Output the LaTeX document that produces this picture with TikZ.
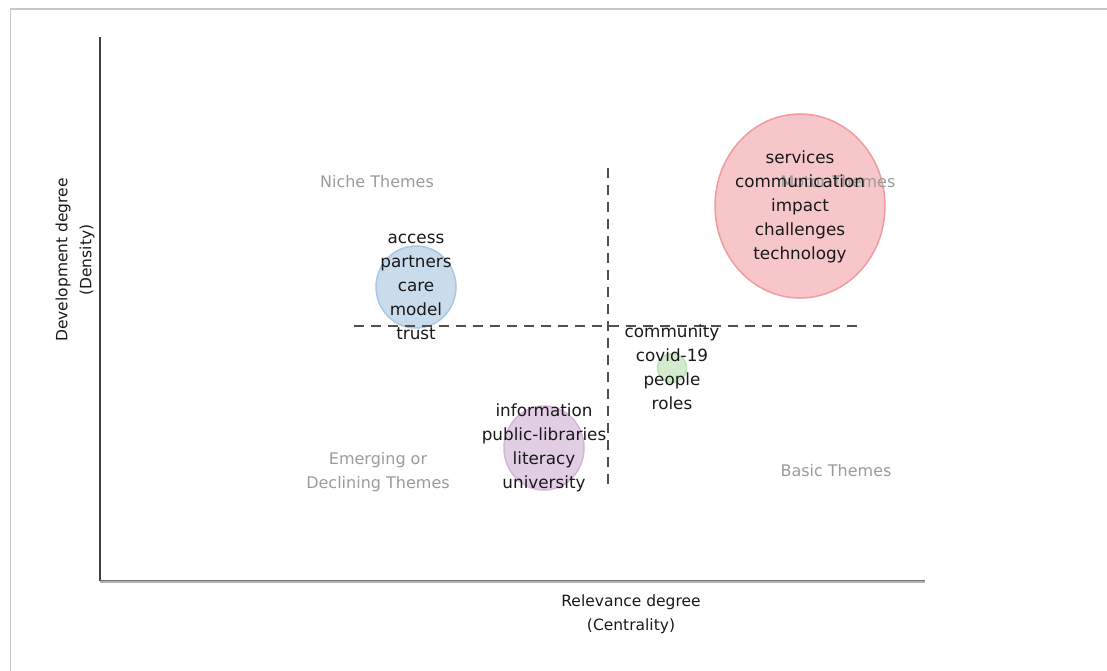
\documentclass[tikz,border=0pt]{standalone}
\usepackage{fontspec}
\setmainfont{DejaVu Sans}
\usetikzlibrary{shapes.geometric}
\definecolor{framegray}{RGB}{200,200,200}
\definecolor{dashgray}{RGB}{80,80,80}
\definecolor{themegray}{RGB}{155,155,155}
\definecolor{redfill}{RGB}{247,198,201}
\definecolor{redline}{RGB}{240,155,160}
\definecolor{bluefill}{RGB}{201,220,236}
\definecolor{blueline}{RGB}{170,200,228}
\definecolor{purplefill}{RGB}{226,206,228}
\definecolor{purpleline}{RGB}{212,182,216}
\definecolor{greenfill}{RGB}{212,236,206}
\definecolor{greenline}{RGB}{190,225,185}
\tikzset{
  x=1pt, y=-1pt,
  bubble/.style={ellipse, draw, line width=1.5pt, inner sep=0pt},
  words/.style={align=center, font=\fontsize{16.8}{24}\selectfont, text=black!90, inner sep=0pt},
  theme/.style={align=center, font=\fontsize{16}{24}\selectfont, text=themegray, inner sep=0pt},
  axislabel/.style={align=center, font=\fontsize{15.5}{24}\selectfont, text=black!90, inner sep=0pt},
  quad/.style={dashgray, line width=2.2pt, dash pattern=on 10pt off 7pt},
}
\begin{document}
\begin{tikzpicture}
\useasboundingbox (0,0) rectangle (1107,671);
% frame
\coordinate (fa) at (10.5,671);
\coordinate (fb) at (10.5,9);
\coordinate (fc) at (1107,9);
\draw[framegray, line width=1.5pt] (fa) -- (fb) -- (fc);
% bubbles
\node[bubble, fill=redfill, draw=redline, minimum width=170pt, minimum height=184pt] (motor) at (800,206) {};
\node[bubble, fill=bluefill, draw=blueline, minimum width=80pt, minimum height=82pt] (niche) at (416,287) {};
\node[bubble, fill=purplefill, draw=purpleline, minimum width=80pt, minimum height=84pt] (emerg) at (544,448) {};
\node[bubble, fill=greenfill, draw=greenline, minimum width=29pt, minimum height=29pt] (basic) at (672,368) {};
% quadrant lines
\coordinate (hl) at (354,326);
\coordinate (hr) at (858,326);
\coordinate (vt) at (608,168);
\coordinate (vb) at (608,488);
\draw[quad] (hl) -- (hr);
\draw[quad] (vt) -- (vb);
% axes
\coordinate (o) at (100,580.5);
\coordinate (ytop) at (100,37);
\coordinate (xend) at (925,580.5);
\draw[black!75, line width=2pt] (o) -- (ytop);
\draw[gray!60, line width=3pt] ([yshift=-1pt]o) -- ([yshift=-1pt]xend);
\draw[gray!110, line width=1.5pt] (o) -- (xend);
% theme labels
\node[theme] (tniche) at (377,182) {Niche Themes};
\node[theme] (tmotor) at (838,182) {Motor Themes};
\node[theme] (temerg) at (378,472) {Emerging or\\Declining Themes};
\node[theme] (tbasic) at (836,471) {Basic Themes};
% cluster words
\node[words] (wmotor) at (800,207) {services\\communication\\impact\\challenges\\technology};
\node[words] (wniche) at (416,287) {access\\partners\\care\\model\\trust};
\node[words] (wbasic) at (672,367.5) {community\\covid-19\\people\\roles};
\node[words] (wemerg) at (544,447.5) {information\\public-libraries\\literacy\\university};
% axis labels
\node[axislabel] (xlab) at (631,614) {Relevance degree\\(Centrality)};
\node[axislabel, rotate=90] (ylab) at (75,260) {Development degree\\(Density)};
\end{tikzpicture}
\end{document}
